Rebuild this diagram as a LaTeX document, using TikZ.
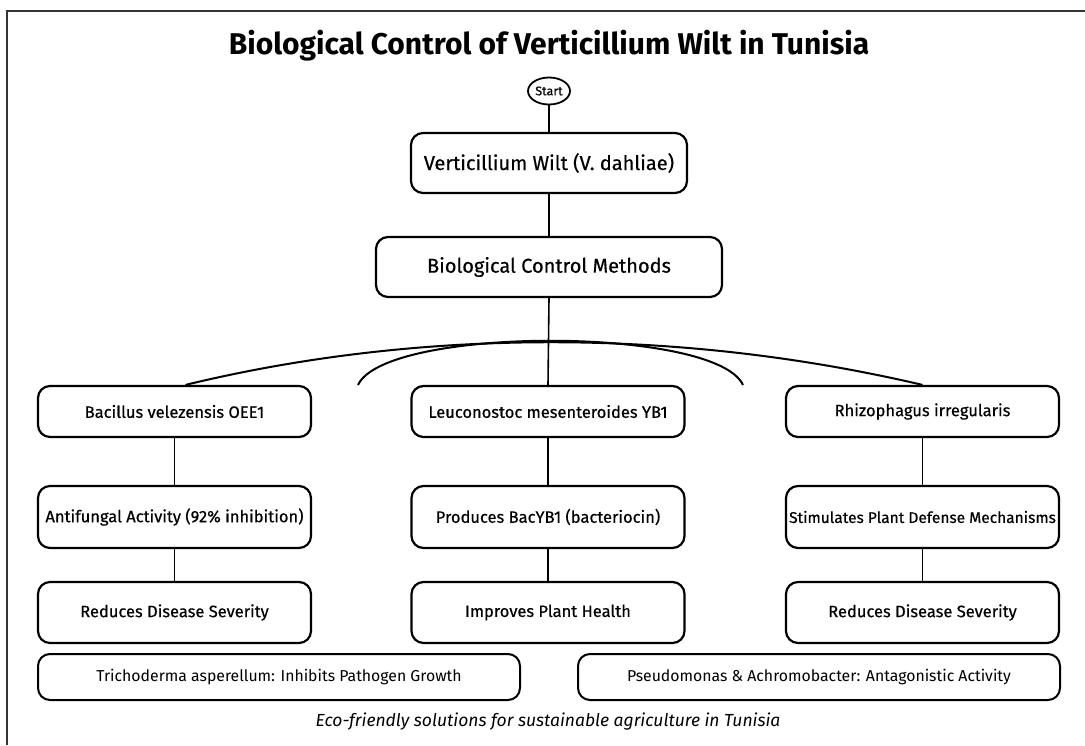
\documentclass[tikz,border=0pt]{standalone}
\usepackage{fontspec}
\setmainfont{Fira Sans}
\newfontfamily\heavy[FakeBold=0.5]{Fira Sans}
\usetikzlibrary{shapes.geometric}
\tikzset{
  box/.style={draw=black, line width=2.2pt, rounded corners=12pt, fill=white, align=center, inner sep=0pt},
  mainbox/.style={box, minimum height=60pt, font=\heavy\fontsize{20}{24}\selectfont},
  rowbox/.style={box, minimum width=273pt, font=\heavy\fontsize{16.5}{19}\selectfont},
  botbox/.style={box, minimum width=482pt, minimum height=46pt, line width=2pt, font=\fontsize{15.8}{19}\selectfont},
  conn/.style={draw=black, line width=1.6pt},
  arch/.style={draw=black, line width=2pt},
  frame/.style={draw=black!80, line width=2pt}
}
\begin{document}
\begin{tikzpicture}[x=1pt,y=-1pt]
\useasboundingbox (0,0) rectangle (1085,745);
\fill[white] (0,0) rectangle (1085,745);
\draw[frame] (1085,10.5) -- (7,10.5) -- (7,745);

\node[font=\fontsize{30}{34}\selectfont\bfseries] (title) at (549,46) {Biological Control of Verticillium Wilt in Tunisia};

\node[ellipse, draw=black, line width=1.8pt, minimum width=42pt, minimum height=27pt, inner sep=0pt, font=\heavy\fontsize{12.5}{14}\selectfont] (start) at (549,91) {Start};

\node[mainbox, minimum width=276pt] (vw) at (549,163) {Verticillium Wilt (V. dahliae)};
\node[mainbox, minimum width=346pt] (bcm) at (549,267) {Biological Control Methods};

\node[rowbox, minimum height=51pt] (bac) at (174.5,411.5) {Bacillus velezensis OEE1};
\node[rowbox, minimum height=51pt] (leu) at (548,411.5) {Leuconostoc mesenteroides YB1};
\node[rowbox, minimum height=51pt] (rhi) at (922.5,411.5) {Rhizophagus irregularis};

\node[rowbox, minimum height=62pt] (anti) at (174.5,517) {Antifungal Activity (92\% inhibition)};
\node[rowbox, minimum height=62pt] (bacy) at (548,517) {Produces BacYB1 (bacteriocin)};
\node[rowbox, minimum height=62pt, font=\heavy\fontsize{15.5}{18}\selectfont] (stim) at (922.5,517) {Stimulates Plant Defense Mechanisms};

\node[rowbox, minimum height=61pt] (red1) at (174.5,612.5) {Reduces Disease Severity};
\node[rowbox, minimum height=61pt] (imp) at (548,612.5) {Improves Plant Health};
\node[rowbox, minimum height=61pt] (red2) at (922.5,612.5) {Reduces Disease Severity};

\node[botbox] (tri) at (279,677) {Trichoderma asperellum: Inhibits Pathogen Growth};
\node[botbox] (pse) at (819,677) {Pseudomonas \& Achromobacter: Antagonistic Activity};

\node[font=\fontsize{17.5}{20}\selectfont\itshape] (foot) at (548,722) {Eco-friendly solutions for sustainable agriculture in Tunisia};

% connectors
\draw[conn] (start.south) -- (vw.north);
\draw[conn] (vw.south) -- (bcm.north);
\draw[conn] (bcm.south) -- (leu.north);

\coordinate (bigL) at ([xshift=11pt]bac.north);
\coordinate (archL) at (358,385);
\coordinate (archR) at (743,385);
\draw[arch] (bigL) .. controls (420,328) and (680,328) .. (rhi.north);
\draw[arch] (archL) .. controls (385,326) and (716,326) .. (archR);

\draw[conn] (bac.south) -- (anti.north);
\draw[conn] (anti.south) -- (red1.north);
\draw[conn] (leu.south) -- (bacy.north);
\draw[conn] (bacy.south) -- (imp.north);
\draw[conn] (rhi.south) -- (stim.north);
\draw[conn] (stim.south) -- (red2.north);
\end{tikzpicture}
\end{document}
